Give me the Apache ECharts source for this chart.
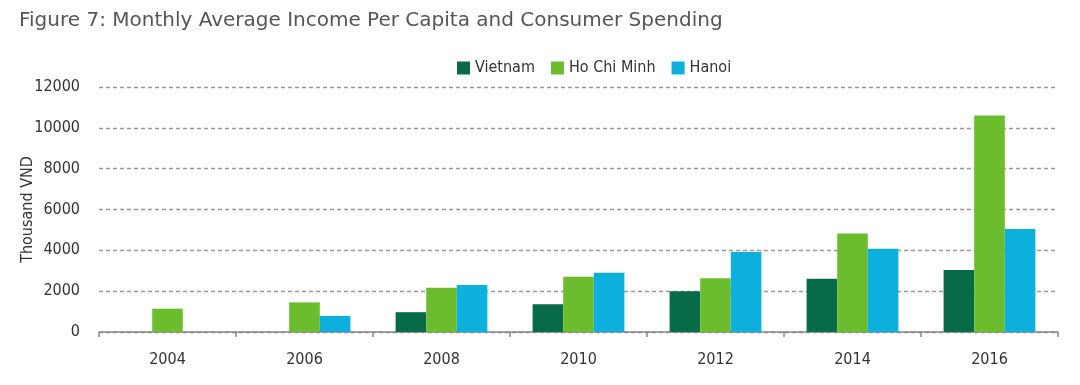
<!DOCTYPE html>
<html>
<head>
<meta charset="utf-8">
<script src="https://cdn.jsdelivr.net/npm/echarts@6/dist/echarts.min.js"></script>
<style>html,body{margin:0;padding:0;background:#fff}#c{width:1080px;height:385px}</style>
</head>
<body>
<div id="c"></div>
<script>
const categories = ['2004', '2006', '2008', '2010', '2012', '2014', '2016'];
const vietnam = [null, null, 970, 1360, 1990, 2610, 3040];
const hoChiMinh = [1140, 1450, 2170, 2710, 2630, 4830, 10600];
const hanoi = [null, 790, 2300, 2900, 3920, 4080, 5050];
const yTicks = [0, 2000, 4000, 6000, 8000, 10000, 12000];

const narrow = "'DejaVu Sans Condensed', 'Liberation Sans Narrow', sans-serif";
const chart = echarts.init(document.getElementById('c'));
chart.setOption({
  animation: false,
  title: {
    text: 'Figure 7: Monthly Average Income Per Capita and Consumer Spending',
    left: 14, top: 6,
    textStyle: { fontFamily: "'DejaVu Sans', sans-serif", fontWeight: 'normal', fontSize: 20, color: '#555' }
  },
  legend: {
    top: 55, left: 452,
    itemWidth: 13, itemHeight: 13, itemGap: 16,
    icon: 'rect',
    textStyle: { fontFamily: narrow, fontSize: 16, color: '#333' },
    data: ['Vietnam', 'Ho Chi Minh', 'Hanoi']
  },
  grid: { left: 99, right: 22, top: 87, bottom: 53, containLabel: false, outerBoundsMode: 'none' },
  xAxis: {
    type: 'category',
    data: categories,
    axisLine: { lineStyle: { color: '#888', width: 1.5 } },
    axisTick: { show: true, length: 5, lineStyle: { color: '#888', width: 1.5 } },
    axisLabel: { margin: 20, fontFamily: narrow, fontSize: 16, color: '#333' }
  },
  yAxis: {
    type: 'value',
    min: 0, max: yTicks[yTicks.length - 1], interval: yTicks[1] - yTicks[0],
    name: 'Thousand VND',
    nameLocation: 'middle', nameRotate: 90, nameGap: 63, nameMoveOverlap: false,
    nameTextStyle: { fontFamily: narrow, fontSize: 16, color: '#333' },
    axisLine: { show: false },
    axisTick: { show: false },
    axisLabel: { margin: 19, fontFamily: narrow, fontSize: 16, color: '#333', formatter: v => String(v) },
    splitLine: { lineStyle: { type: [4, 3], color: '#999', width: 1.3 } }
  },
  series: [
    { name: 'Vietnam', type: 'bar', data: vietnam, barGap: 0, barCategoryGap: '33%', itemStyle: { color: '#076b48' } },
    { name: 'Ho Chi Minh', type: 'bar', data: hoChiMinh, barGap: 0, barCategoryGap: '33%', itemStyle: { color: '#6bbd2d' } },
    { name: 'Hanoi', type: 'bar', data: hanoi, barGap: 0, barCategoryGap: '33%', itemStyle: { color: '#0db0dc' } }
  ]
});
</script>
</body>
</html>
